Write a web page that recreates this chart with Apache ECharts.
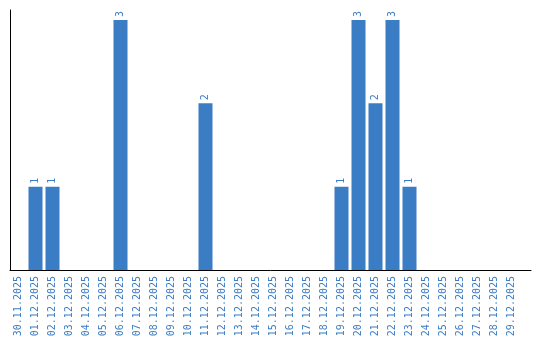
<!DOCTYPE html>
<html><head><meta charset="utf-8">
<script src="https://cdn.jsdelivr.net/npm/echarts@6/dist/echarts.min.js"></script>
<style>html,body{margin:0;padding:0;background:#fff}#c{width:540px;height:340px}</style>
</head><body><div id="c"></div>
<script>
const categories = ["30.11.2025","01.12.2025","02.12.2025","03.12.2025","04.12.2025","05.12.2025","06.12.2025","07.12.2025","08.12.2025","09.12.2025","10.12.2025","11.12.2025","12.12.2025","13.12.2025","14.12.2025","15.12.2025","16.12.2025","17.12.2025","18.12.2025","19.12.2025","20.12.2025","21.12.2025","22.12.2025","23.12.2025","24.12.2025","25.12.2025","26.12.2025","27.12.2025","28.12.2025","29.12.2025"];
const values = [0,1,1,0,0,0,3,0,0,0,0,2,0,0,0,0,0,0,0,1,3,2,3,1,0,0,0,0,0,0];
const chart = echarts.init(document.getElementById('c'));
const blue = '#3b7dc4';
chart.setOption({
  animation:false,
  grid:[{left:10,right:20,top:10,bottom:70},{left:10,right:9,top:10,bottom:70}],
  xAxis:[{type:'category',data:categories,gridIndex:0,
    axisLine:{show:false},axisTick:{show:false},
    axisLabel:{rotate:90,interval:0,color:blue,fontFamily:'DejaVu Sans Mono',fontSize:10,margin:6}},
    {type:'value',gridIndex:1,min:0,max:1,axisLine:{show:true,lineStyle:{color:'#000',width:1}},
    axisLabel:{show:false},axisTick:{show:false},splitLine:{show:false}}],
  yAxis:[{type:'value',gridIndex:0,min:0,max:3.12,axisLine:{show:true,lineStyle:{color:'#000',width:1}},
    axisLabel:{show:false},splitLine:{show:false},axisTick:{show:false}},
    {type:'value',gridIndex:1,min:0,max:1,show:false}],
  series:[{type:'bar',data:values,barWidth:14,itemStyle:{color:blue},xAxisIndex:0,yAxisIndex:0,
    label:{show:true,position:'top',rotate:90,align:'left',verticalAlign:'middle',distance:3,
      color:blue,fontFamily:'DejaVu Sans Mono',fontSize:10,
      formatter:p=>p.value>0?String(p.value):''}}]
});
</script></body></html>
